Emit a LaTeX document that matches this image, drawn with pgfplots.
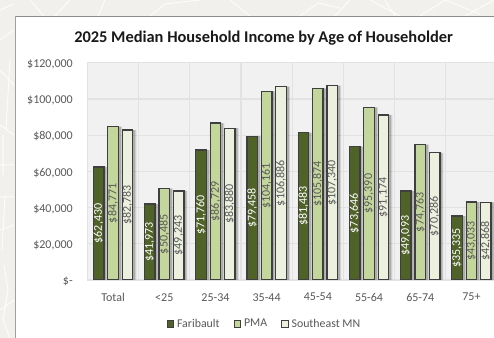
\documentclass[border=0pt]{standalone}
\usepackage{pgfplots}
\usepackage{pgfplotstable}
\usepackage{fontspec}
\setmainfont{Carlito}
\pgfplotsset{compat=1.18}

\definecolor{barDark}{HTML}{4F6228}
\definecolor{barMid}{HTML}{C3D69B}
\definecolor{barLight}{HTML}{EBF1DE}
\definecolor{barEdge}{HTML}{3F3F3F}
\definecolor{plotBg}{HTML}{F1F1F1}
\definecolor{gridLine}{HTML}{E2E2E2}
\definecolor{labelText}{HTML}{595959}
\definecolor{mapBg}{HTML}{F1F0EC}

\pgfplotstableread{
x f p s
0 62430 84771 82783
1 41973 50485 49243
2 71760 86729 83880
3 79458 104161 106886
4 81483 105874 107340
5 73646 95390 91174
6 49093 74763 70286
7 35335 43033 42868
}\incomeTable

% soft shadow and outlined bar for one series
\newcommand{\seriesBars}[3]{%
  \addplot[ybar, forget plot, draw=none, fill=black, fill opacity=.12, bar width=10.8pt, bar shift=#3+1.2pt] table[x=x, y=#1] {\incomeTable};
  \addplot[ybar, forget plot, draw=none, fill=black, fill opacity=.18, bar width=9.2pt, bar shift=#3+1.2pt] table[x=x, y=#1] {\incomeTable};
  \addplot[ybar, draw=barEdge, line width=1pt, fill=#2, bar width=7.9pt, bar shift=#3] table[x=x, y=#1] {\incomeTable};
}
% value label rotated in the middle of each bar
\newcommand{\seriesLabels}[3]{%
  \addplot[draw=none, forget plot, point meta=explicit,
    nodes near coords={\$\pgfmathprintnumber[fixed,precision=0,1000 sep={,},assume math mode=true]{\pgfplotspointmeta}},
    nodes near coords style={rotate=90, anchor=center, inner sep=0pt, font=\fontsize{9}{9}\selectfont, text=#3}]
    table[x expr=\thisrow{x}+#2, y expr=\thisrow{#1}/2, meta=#1] {\incomeTable};
}

\begin{document}
\begin{tikzpicture}
\path[use as bounding box, clip] (0,0) rectangle (370.5pt,-253.5pt);

% street-map backdrop and the white chart panel
\begin{scope}[x=.75pt, y=-.75pt]
  \fill[mapBg] (0,0) rectangle (494,338);
  \begin{scope}[white, line width=.75pt, opacity=.8]
    \draw (30,0) -- (44,16) (70,0) -- (55,16) (105,0) -- (98,16) (0,10) -- (14,4);
    \draw (150,16) -- (165,4) -- (200,0) (230,0) -- (250,16) (300,16) -- (318,3) -- (340,8);
    \draw (335,16) -- (350,0) (370,0) -- (400,16) (385,0) -- (395,16) (420,16) -- (445,0);
    \draw (465,16) -- (494,0) (445,0) -- (480,14);
    \draw (0,40) -- (14,30) (0,70) -- (14,85) (0,125) -- (14,135) (3,135) -- (3,175);
    \draw (0,197) -- (14,197) (10,60) -- (6,130) (5,197) -- (2,250) (0,230) -- (14,225);
    \draw (4,265) -- (8,290) -- (3,320) -- (10,338) (0,310) -- (14,300) (0,165) -- (14,165);
  \end{scope}
  \fill[white] (15.5,16.5) rectangle (494,338);
  \draw[color=gray!75, line width=.9pt] (15.5,338) -- (15.5,16.5);
  \draw[color=gray!90, line width=1.1pt] (15.5,16.5) -- (494,16.5);
\end{scope}

\begin{axis}[
  at={(65.6pt,-210pt)}, anchor=south west,
  scale only axis, width=307.2pt, height=162.9pt,
  xmin=-0.5, xmax=7.5, ymin=0, ymax=120000,
  scaled y ticks=false,
  axis background/.style={fill=plotBg},
  axis line style={gridLine, line width=.7pt},
  ymajorgrids, xminorgrids,
  grid style={gridLine, line width=.9pt},
  minor grid style={gridLine, line width=.9pt},
  major tick length=0pt, minor tick length=0pt,
  xtick={0,...,7},
  minor xtick={-0.5,0.5,...,7.5},
  xticklabels={Total,<25,25-34,35-44,45-54,55-64,65-74,75+},
  ytick={0,20000,...,120000},
  yticklabels={{\$-\hspace{3.6pt}},{\$20,000},{\$40,000},{\$60,000},{\$80,000},{\$100,000},{\$120,000}},
  tick label style={font=\fontsize{9}{9}\selectfont, text=labelText},
  yticklabel style={xshift=-7.5pt, yshift=-1pt},
  xticklabel style={yshift=-6.4pt},
  title={\textbf{2025 Median Household Income by Age of Householder}},
  title style={at={(0.43,1.075)}, anchor=center, font=\fontsize{12.3}{13}\selectfont, text=black!90},
  legend columns=3,
  legend style={at={(0.433,-0.203)}, anchor=center, draw=none, fill=none,
    font=\fontsize{8.9}{9}\selectfont, text=labelText, inner sep=0pt,
    /tikz/every even column/.style={column sep=8.5pt}},
  legend image code/.code={\draw[#1, line width=.8pt, draw=barEdge] (0pt,-2.4pt) rectangle (5pt,2.6pt);},
]
\seriesBars{f}{barDark}{-10.8pt}
\seriesBars{p}{barMid}{0pt}
\seriesBars{s}{barLight}{10.8pt}
\seriesLabels{f}{-0.28125}{white}
\seriesLabels{p}{0}{labelText}
\seriesLabels{s}{0.28125}{labelText}
\legend{Faribault,PMA,Southeast MN}
\end{axis}
\end{tikzpicture}
\end{document}
